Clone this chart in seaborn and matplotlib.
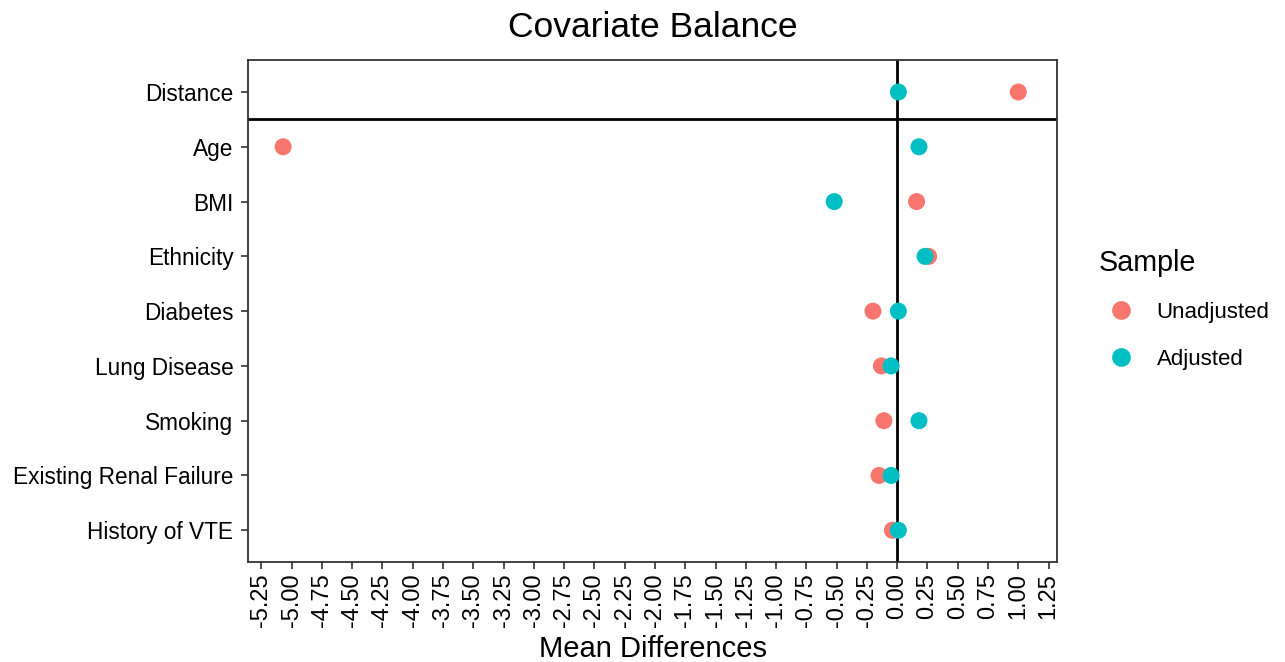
import pandas as pd
import matplotlib
matplotlib.use('Agg')
import matplotlib.pyplot as plt
import seaborn as sns

# covariates (top to bottom) and mean differences
covariates = ['Distance', 'Age', 'BMI', 'Ethnicity', 'Diabetes', 'Lung Disease',
              'Smoking', 'Existing Renal Failure', 'History of VTE']
unadjusted = [1.00, -5.07, 0.16, 0.26, -0.20, -0.13, -0.11, -0.15, -0.04]
adjusted = [0.01, 0.18, -0.52, 0.23, 0.01, -0.05, 0.18, -0.05, 0.01]
x_ticks = [i * 0.25 for i in range(-21, 6)]
x_labels = [f'{t:.2f}' for t in x_ticks]

df = pd.DataFrame({
    'Covariate': covariates * 2,
    'Mean Difference': unadjusted + adjusted,
    'Sample': ['Unadjusted'] * len(covariates) + ['Adjusted'] * len(covariates),
})

sns.set_style('white')
plt.rcParams['font.family'] = ['Liberation Sans', 'DejaVu Sans']
plt.rcParams['text.color'] = 'black'
plt.rcParams['axes.labelcolor'] = 'black'

fig = plt.figure(figsize=(12.85, 6.62), dpi=100)
ax = fig.add_axes([0.193, 0.151, 0.6296, 0.758])

ax.axvline(0, color='black', lw=2, zorder=1)
ax.axhline(0.5, color='black', lw=2, zorder=1)

sns.scatterplot(data=df, x='Mean Difference', y='Covariate', hue='Sample',
                palette={'Unadjusted': '#F8766D', 'Adjusted': '#00BFC4'},
                s=150, edgecolor='none', ax=ax, zorder=3)

ax.set_xlim(-5.36, 1.32)
ax.set_ylim(len(covariates) - 0.42, -0.58)
ax.set_xticks(x_ticks)
ax.set_xticklabels(x_labels, rotation=90, fontsize=17)
ax.tick_params(axis='both', direction='out', length=5, width=1.2, color='#333333',
               labelcolor='black', bottom=True, left=True)
ax.tick_params(axis='x', pad=3)
ax.tick_params(axis='y', labelsize=16.3, pad=5.5)
for sp in ax.spines.values():
    sp.set_color('#333333')
    sp.set_linewidth(1.3)

ax.set_xlabel('Mean Differences', fontsize=21, labelpad=6)
ax.set_ylabel('')
ax.set_title('Covariate Balance', fontsize=25.5, pad=17)

leg = ax.legend(title='Sample', loc='center left', bbox_to_anchor=(1.027, 0.504),
                frameon=False, fontsize=16, title_fontsize=20.7, markerscale=1.1,
                handletextpad=0.6, labelspacing=1.15)
leg._legend_box.align = 'left'

fig.savefig('out.png', dpi=100)
